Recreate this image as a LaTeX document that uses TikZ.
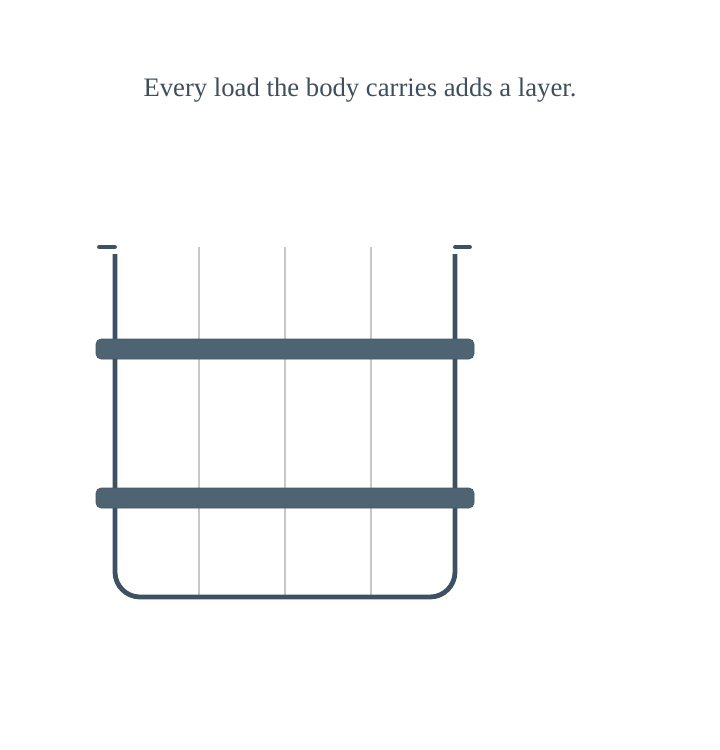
\documentclass[tikz,border=0pt]{standalone}
\usepackage{fontspec}
\setmainfont{Liberation Serif}
\usetikzlibrary{positioning}
\definecolor{wallcol}{HTML}{3E5162}
\definecolor{barcol}{HTML}{4F6473}
\definecolor{stripcol}{HTML}{C8C8C8}
\definecolor{textcol}{HTML}{3E4E5A}
\tikzset{%
  every wall/.style={
    draw=wallcol,
    line width=4.8pt
  },
  wall cap/.style={
    draw=wallcol,
    line width=4.8pt,
    line cap=round
  },
  load bar/.style={
    rectangle,
    fill=barcol,
    draw=barcol!85!black,
    line width=0.6pt,
    rounded corners=5pt,
    inner sep=0pt,
    minimum width=378pt,
    minimum height=20pt
  },
  strip/.style={
    draw=stripcol,
    line width=1.6pt
  },
}

\begin{document}
\begin{tikzpicture}[x=1pt, y=-1pt]
        \useasboundingbox (0,0) rectangle (720,750);

        \node [text=textcol, font=\fontsize{26.7}{30}\selectfont, anchor=base] (title) at (360,96)
          {Every load the body carries adds a layer.};

        \foreach \x [count=\i] in {199,285,371}
          \draw [strip] (\x,247) coordinate (strip-top-\i) -- (\x,596) coordinate (strip-bot-\i);

        \coordinate (left-top) at (115,254);
        \coordinate (right-top) at (455,254);
        \draw [every wall, rounded corners=25pt] (left-top) -- (115,597) -- (455,597) -- (right-top);

        \foreach \y [count=\i] in {349,498}
          \node [load bar] (bar-\i) at (285,\y) {};

        \draw [wall cap] (99.5,247) coordinate (cap-l1) -- (114.5,247) coordinate (cap-l2);
        \draw [wall cap] (455.5,247) coordinate (cap-r1) -- (469.5,247) coordinate (cap-r2);
\end{tikzpicture}
\end{document}
